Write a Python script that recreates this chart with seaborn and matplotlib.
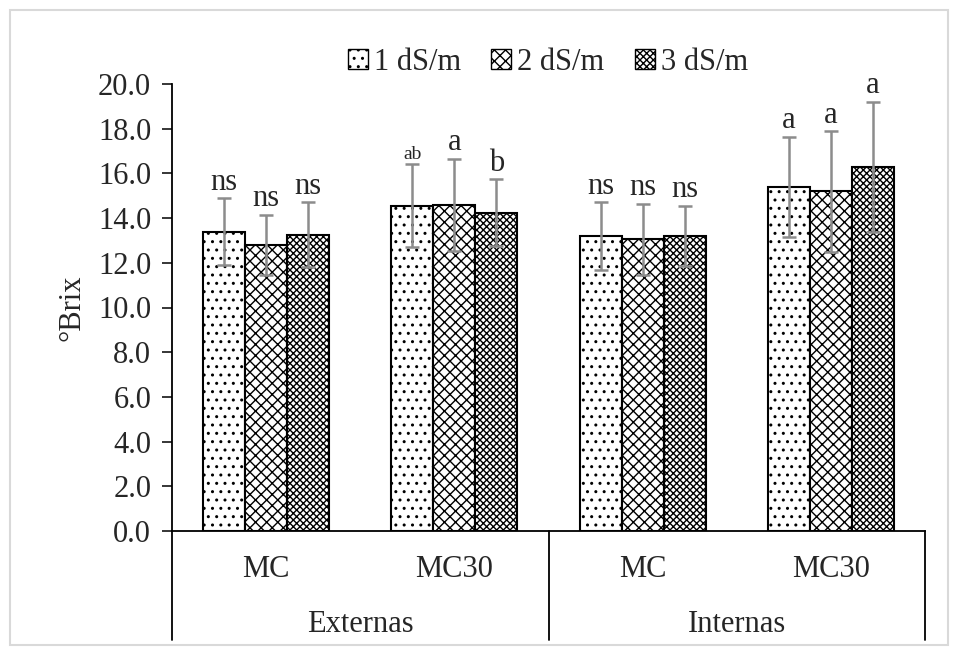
import numpy as np
import pandas as pd
import seaborn as sns
import matplotlib.pyplot as plt
from matplotlib.patches import Patch, Rectangle
from matplotlib.lines import Line2D
import matplotlib.transforms as mtransforms

groups = ["Externas", "Externas", "Internas", "Internas"]
cats = ["MC", "MC30", "MC", "MC30"]
treatments = ["1 dS/m", "2 dS/m", "3 dS/m"]
v1 = [13.4, 14.55, 13.2, 15.4]
v2 = [12.8, 14.6, 13.05, 15.2]
v3 = [13.25, 14.25, 13.2, 16.3]
e1 = [1.5, 1.85, 1.5, 2.25]
e2 = [1.35, 2.05, 1.6, 2.7]
e3 = [1.45, 1.5, 1.35, 2.9]
l1 = ["ns", "ab", "ns", "a"]
l2 = ["ns", "a", "ns", "a"]
l3 = ["ns", "b", "ns", "a"]
yticks = [0, 2, 4, 6, 8, 10, 12, 14, 16, 18, 20]

sns.set_theme(style="white")
plt.rcParams['font.family'] = ['Liberation Serif', 'DejaVu Serif']
plt.rcParams['hatch.linewidth'] = 1.0

FS = 22

keys = [g + "|" + c for g, c in zip(groups, cats)]
rows = []
for vals, t in zip([v1, v2, v3], treatments):
    for k, v in zip(keys, vals):
        rows.append({"key": k, "treatment": t, "value": v})
df = pd.DataFrame(rows)

fig = plt.figure(figsize=(9.58, 6.53), dpi=100)
ax = fig.add_axes([172/958, 1-531/653, (925-172)/958, (531-84)/653])

sns.barplot(data=df, x="key", y="value", hue="treatment", order=keys,
            hue_order=treatments, palette=["white"]*3, edgecolor="black",
            linewidth=1.5, width=0.67, errorbar=None, ax=ax, legend=False)

hatches = ["..", "xxx", "xxxxx"]
errs = [e1, e2, e3]
labs = [l1, l2, l3]
for cont, h, es, ls in zip(ax.containers, hatches, errs, labs):
    for bar, e, lab in zip(cont, es, ls):
        bar.set_hatch(h)
        x = bar.get_x() + bar.get_width()/2
        y = bar.get_height()
        ax.errorbar(x, y, yerr=e, color="#8c8c8c", capsize=5,
                    elinewidth=1.8, capthick=1.8, zorder=3)
        fs = 14 if lab == "ab" else FS
        ax.annotate(lab, (x, y+e), xytext=(0, 1), textcoords="offset points",
                    ha="center", va="bottom", fontsize=fs)

ax.set_xlim(-0.5, 3.5)
ax.set_ylim(0, 20)
ax.set_yticks(yticks)
ax.set_yticklabels([f"{t:.1f}" for t in yticks], fontsize=FS)
ax.set_xticks(range(4))
ax.set_xticklabels(cats, fontsize=FS)
ax.tick_params(axis="x", length=0, pad=17)
ax.tick_params(axis="y", length=7, width=1.3, direction="out", pad=8, left=True)
ax.set_xlabel("")
ax.set_ylabel("°Brix", fontsize=FS, labelpad=8)
for s in ["top", "right"]:
    ax.spines[s].set_visible(False)
for s in ["left", "bottom"]:
    ax.spines[s].set_color("black")
    ax.spines[s].set_linewidth(1.3)

trans = mtransforms.blended_transform_factory(ax.transData, ax.transAxes)
for xd in [-0.5, 1.5, 3.5]:
    ax.add_line(Line2D([xd, xd], [0, -0.244], transform=trans, color="black",
                       linewidth=1.3, clip_on=False))
for xc, g in [(0.5, "Externas"), (2.5, "Internas")]:
    ax.text(xc, -0.21, g, transform=trans, ha="center", va="center", fontsize=FS)

handles = [Patch(facecolor="white", edgecolor="black", hatch=h, label=t)
           for h, t in zip(hatches, treatments)]
fig.legend(handles=handles, loc="center", bbox_to_anchor=(548/958, 1-62/653),
           ncol=3, frameon=False, fontsize=FS, handlelength=0.65,
           handleheight=0.65, handletextpad=0.2, columnspacing=1.0)

fig.patches.append(Rectangle((10/958, 1-645/653), 938/958, 635/653,
                             transform=fig.transFigure, fill=False,
                             edgecolor="#d9d9d9", linewidth=1.5))

fig.savefig("out.png", dpi=100)
